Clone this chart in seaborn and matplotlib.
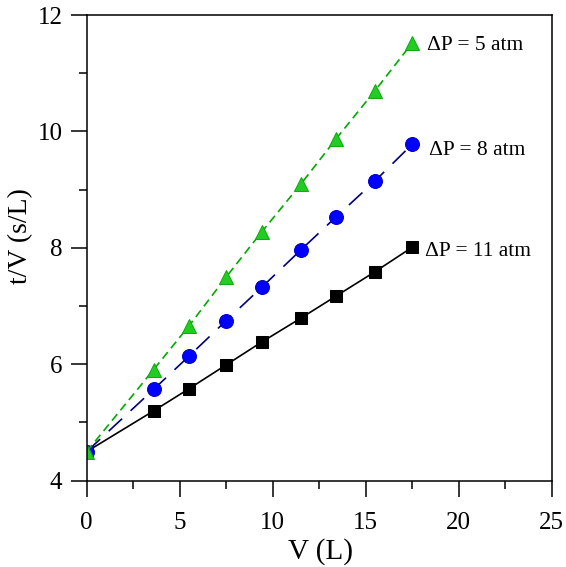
import matplotlib
matplotlib.use("Agg")
import matplotlib.pyplot as plt
import seaborn as sns
from matplotlib.ticker import MultipleLocator

# data
volume = [0, 3.6, 5.5, 7.5, 9.4, 11.5, 13.4, 15.5, 17.5]
tv_5atm = [4.5, 5.91, 6.66, 7.50, 8.27, 9.09, 9.87, 10.70, 11.52]
tv_8atm = [4.5, 5.57, 6.14, 6.75, 7.32, 7.96, 8.53, 9.15, 9.78]
tv_11atm = [4.5, 5.20, 5.58, 5.99, 6.38, 6.79, 7.17, 7.59, 8.01]
labels = ["\u0394P = 5 atm", "\u0394P = 8 atm", "\u0394P = 11 atm"]

sns.set_theme(style="ticks")
plt.rcParams['font.family'] = ['Liberation Serif', 'DejaVu Serif']
plt.rcParams['text.color'] = 'black'
plt.rcParams['axes.labelcolor'] = 'black'

fig = plt.figure(figsize=(5.66, 5.67), dpi=100)
ax = fig.add_axes([0.1532, 0.1522, 0.8215, 0.8213])

sns.lineplot(x=volume, y=tv_11atm, ax=ax, color='black', lw=1.2, linestyle='-',
             marker='s', markersize=8.5, markerfacecolor='black', markeredgecolor='black')
sns.lineplot(x=volume, y=tv_8atm, ax=ax, color='#000080', lw=1.2, dashes=(11, 7),
             marker='o', markersize=10, markerfacecolor='#0000ff', markeredgecolor='#0000cc')
sns.lineplot(x=volume, y=tv_5atm, ax=ax, color='#00aa00', lw=1.2, dashes=(5, 3),
             marker='^', markersize=10, markerfacecolor='#22cc22', markeredgecolor='#11aa11')

ax.text(18.3, tv_5atm[-1] - 0.05, labels[0], fontsize=15.5, va='center', ha='left', color='black')
ax.text(18.4, tv_8atm[-1] - 0.1, labels[1], fontsize=15.5, va='center', ha='left', color='black')
ax.text(18.2, tv_11atm[-1] - 0.08, labels[2], fontsize=15.5, va='center', ha='left', color='black')

ax.set_xlim(0, 25)
ax.set_ylim(4, 12)
ax.xaxis.set_major_locator(MultipleLocator(5))
ax.xaxis.set_minor_locator(MultipleLocator(2.5))
ax.yaxis.set_major_locator(MultipleLocator(2))
ax.yaxis.set_minor_locator(MultipleLocator(1))
ax.tick_params(which='major', direction='out', length=11.5, width=1.1, labelsize=18,
               color='black', labelcolor='black')
ax.tick_params(axis='y', which='major', pad=6)
ax.tick_params(axis='x', which='major', pad=11)
ax.tick_params(which='minor', direction='out', length=5.5, width=1.1, color='black')
ax.tick_params(top=False, right=False, which='both')
for s in ax.spines.values():
    s.set_linewidth(1.1)
    s.set_color('black')

ax.set_xlabel("V (L)", fontsize=21, color='black')
ax.set_ylabel("t/V (s/L)", fontsize=20, color='black')
ax.xaxis.set_label_coords(0.502, -0.153)
ax.yaxis.set_label_coords(-0.143, 0.525)
ax.xaxis.label.set_va('center')
ax.yaxis.label.set_va('center')

fig.savefig("out.png", dpi=100)
